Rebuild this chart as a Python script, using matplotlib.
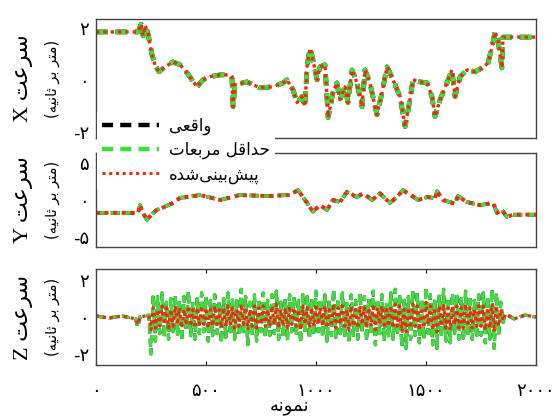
import numpy as np
import matplotlib
matplotlib.use('Agg')
import matplotlib.pyplot as plt
from matplotlib.lines import Line2D

# --- Persian text helper: pick contextual glyph forms and put into visual order ---
FORMS = {
    'ا': ('\uFE8D', '\uFE8E', None, None),
    'د': ('\uFEA9', '\uFEAA', None, None),
    'ر': ('\uFEAD', '\uFEAE', None, None),
    'و': ('\uFEED', '\uFEEE', None, None),
    'ب': ('\uFE8F', '\uFE90', '\uFE91', '\uFE92'),
    'ت': ('\uFE95', '\uFE96', '\uFE97', '\uFE98'),
    'ث': ('\uFE99', '\uFE9A', '\uFE9B', '\uFE9C'),
    'ح': ('\uFEA1', '\uFEA2', '\uFEA3', '\uFEA4'),
    'س': ('\uFEB1', '\uFEB2', '\uFEB3', '\uFEB4'),
    'ش': ('\uFEB5', '\uFEB6', '\uFEB7', '\uFEB8'),
    'ع': ('\uFEC9', '\uFECA', '\uFECB', '\uFECC'),
    'ق': ('\uFED5', '\uFED6', '\uFED7', '\uFED8'),
    'ل': ('\uFEDD', '\uFEDE', '\uFEDF', '\uFEE0'),
    'م': ('\uFEE1', '\uFEE2', '\uFEE3', '\uFEE4'),
    'ن': ('\uFEE5', '\uFEE6', '\uFEE7', '\uFEE8'),
    'ه': ('\uFEE9', '\uFEEA', '\uFEEB', '\uFEEC'),
    'ی': ('\uFBFC', '\uFBFD', '\uFBFE', '\uFBFF'),
    'پ': ('\uFB56', '\uFB57', '\uFB58', '\uFB59'),
}


def fa(s):
    out = []
    for i, ch in enumerate(s):
        if ch == '\u200c':
            continue
        if ch not in FORMS:
            out.append(ch)
            continue
        prev = s[i - 1] if i > 0 else ''
        nxt = s[i + 1] if i + 1 < len(s) else ''
        jp = prev in FORMS and FORMS[prev][2] is not None
        jn = FORMS[ch][2] is not None and nxt in FORMS
        iso, fin, ini, med = FORMS[ch]
        if jp and jn:
            out.append(med)
        elif jp:
            out.append(fin)
        elif jn:
            out.append(ini)
        else:
            out.append(iso)
    vis = ''.join(reversed(out))
    return vis.translate(str.maketrans('()', ')('))


# --- data (sample index, value) ---
x_t = [0, 191, 205, 214, 223, 236, 255, 268, 286, 314, 350, 382, 414, 436, 459, 486,
       518, 564, 609, 618, 623, 632, 686, 745, 805, 850, 868, 895, 914, 936, 950, 959,
       973, 986, 1005, 1018, 1041, 1055, 1077, 1095, 1109, 1132, 1145, 1164, 1186, 1209,
       1223, 1245, 1277, 1300, 1323, 1350, 1382, 1405, 1427, 1441, 1473, 1505, 1527, 1541,
       1564, 1595, 1618, 1632, 1655, 1686, 1723, 1755, 1782, 1800, 1814, 1827, 1845, 1850,
       1868, 2000]
x_actual = [1.85, 1.85, 2.15, 1.7, 2.1, 1.8, 0.96, 0.58, 0.31, 0.5, 0.69, 0.58, 0.27, 0, -0.27, 0,
            0.12, 0.19, 0.19, 0.08, -1.04, -0.19, -0.08, -0.31, -0.27, -0.12, 0, -0.38, -0.88, -0.65, -1.04, 0.5,
            1.23, 0.77, 0, 0.5, 0.58, -1.46, -0.5, -0.12, -0.77, -0.27, -0.88, 0.38, -0.12, -1.04,
            0.38, -0.12, -1.35, -0.5, 0.5, 0, -0.65, -1.81, -0.77, 0, -0.08, -0.12, -0.65, -1.42,
            -0.77, -0.12, 0.38, -0.65, 0.12, 0.38, 0.31, 0.46, 0.65, 1.27, 1.85, 1.54, 0.46, 1.65,
            1.65, 1.65]
x_ls = x_actual
x_pred = x_actual

y_t = [0, 191, 200, 214, 232, 255, 277, 314, 350, 382, 414, 473, 564, 655, 777, 882,
       918, 941, 986, 1018, 1050, 1077, 1109, 1141, 1186, 1214, 1255, 1291, 1336, 1368,
       1395, 1464, 1505, 1541, 1550, 1577, 1632, 1645, 1686, 1745, 1805, 1823, 1845, 1868,
       1895, 2000]
y_actual = [-1.75, -1.75, -0.7, -1.8, -2.7, -1.9, -1.35, -0.9, -0.4, 0.3, 0.4, 0.68, 0, 0.68, 0.54, 0.68,
            1.35, 0.4, -1.6, -0.7, -1.35, 0, -0.27, 1.1, 0.4, 0.9, 0, 0.9, -0.4, 0.4,
            1.35, 0, 0.4, 0.27, 1.2, 0, -0.5, 0.54, -0.27, -0.7, -0.4, -1.75, -1.35, -2.3,
            -2.0, -2.0]
y_ls = y_actual
y_pred = y_actual

z_t = [0, 60, 120, 180, 190, 200, 240] + list(range(250, 1851, 10)) + [1860, 1900, 1950, 2000]
z_actual = [0.05, -0.05, 0.05, -0.1, -0.55, 0.0, 0.1,
            -2.0, 1.2, -1.3, 1.1, -0.9, 1.3, -1.1, 0.8, -1.2, 1.0,
            -0.8, 1.2, -1.0, 0.9, -1.3, 1.1, -0.7, 1.4, -1.0, 0.8,
            -1.2, 1.0, -0.9, 1.3, -0.8, 1.1, -1.3, 0.9, -1.0, 1.2,
            -0.9, 0.8, -1.4, 1.0, -1.1, 1.3, -0.8, 1.0, -1.2, 0.9,
            -1.0, 1.5, -0.9, 1.1, -1.5, 0.8, -1.0, 1.2, -1.3, 1.0,
            -0.8, 1.3, -1.1, 0.9, -1.0, 1.2, -0.9, 1.4, -1.2, 0.8,
            -1.1, 1.0, -1.3, 1.2, -0.8, 1.1, -1.0, 0.9, -1.4, 1.3,
            -0.9, 1.1, -1.2, 1.0, -1.0, 1.4, -0.8, 1.0, -1.1, 1.2,
            -1.3, 0.9, -1.0, 1.5, -1.2, 1.0, -0.9, 1.3, -1.1, 0.8,
            -1.4, 1.2, -1.0, 0.9, -1.2, 1.3, -0.8, 1.1, -1.3, 1.0,
            -1.0, 1.4, -1.5, 1.0, -0.9, 1.2, -1.3, 0.8, -1.1, 1.3,
            -1.2, 1.5, -1.0, 1.2, -1.6, 0.9, -1.7, 1.1, -1.2, 1.4,
            -1.0, 1.3, -1.4, 1.0, -1.2, 1.6, -0.9, 1.2, -1.5, 1.0,
            -1.7, 1.2, -1.1, 1.5, -1.3, 1.0, -1.4, 1.3, -0.9, 1.2,
            -1.2, 1.0, -1.3, 1.4, -1.0, 1.1, -1.2, 0.9, -1.1, 1.2,
            -1.0, 1.3, -1.4, 1.1, -1.2, 1.5, -1.7, 1.3, -1.0, 0.8,
            -0.3,
            0.2, -0.1, 0.1, 0.0]
z_ls = z_actual
z_pred = [0.05, -0.05, 0.05, -0.1, -0.4, 0.0, 0.1,
          -0.7, 0.5, -0.6, 0.4, -0.5, 0.6, -0.4, 0.5, -0.6, 0.4,
          -0.5, 0.6, -0.4, 0.5, -0.6, 0.4, -0.3, 0.6, -0.5, 0.4,
          -0.6, 0.5, -0.4, 0.6, -0.4, 0.5, -0.6, 0.4, -0.5, 0.6,
          -0.4, 0.4, -0.6, 0.5, -0.5, 0.6, -0.4, 0.5, -0.6, 0.4,
          -0.5, 0.7, -0.4, 0.5, -0.7, 0.4, -0.5, 0.6, -0.6, 0.5,
          -0.4, 0.6, -0.5, 0.4, -0.5, 0.6, -0.4, 0.7, -0.6, 0.4,
          -0.5, 0.5, -0.6, 0.6, -0.4, 0.5, -0.5, 0.4, -0.7, 0.6,
          -0.4, 0.5, -0.6, 0.5, -0.5, 0.7, -0.4, 0.5, -0.5, 0.6,
          -0.6, 0.4, -0.5, 0.7, -0.6, 0.5, -0.4, 0.6, -0.5, 0.4,
          -0.7, 0.6, -0.5, 0.4, -0.6, 0.6, -0.4, 0.5, -0.6, 0.5,
          -0.5, 0.7, -0.7, 0.5, -0.4, 0.6, -0.6, 0.4, -0.5, 0.6,
          -0.6, 0.7, -0.5, 0.6, -0.8, 0.4, -0.8, 0.5, -0.6, 0.7,
          -0.5, 0.6, -0.7, 0.5, -0.6, 0.8, -0.4, 0.6, -0.7, 0.5,
          -0.8, 0.6, -0.5, 0.7, -0.6, 0.5, -0.7, 0.6, -0.4, 0.6,
          -0.6, 0.5, -0.6, 0.7, -0.5, 0.5, -0.6, 0.4, -0.5, 0.6,
          -0.5, 0.6, -0.7, 0.5, -0.6, 0.7, -0.8, 0.6, -0.5, 0.4,
          -0.2,
          0.15, -0.1, 0.1, 0.0]

series_names = ['سرعت X', 'سرعت Y', 'سرعت Z']
unit_label = '(متر بر ثانیه)'
legend_labels = ['واقعی', 'حداقل مربعات', 'پیش\u200cبینی\u200cشده']
x_label = 'نمونه'
x_ticks = [0, 500, 1000, 1500, 2000]
x_ticklabels = ['۰', '۵۰۰', '۱۰۰۰', '۱۵۰۰', '۲۰۰۰']
y_ticks = [[-2, 0, 2], [-5, 0, 5], [-2, 0, 2]]
y_ticklabels = [['-۲', '۰', '۲'], ['-۵', '۰', '۵'], ['-۲', '۰', '۲']]
y_limits = [(-2.25, 2.35), (-6.4, 6.4), (-2.6, 2.6)]

# --- figure ---
fig = plt.figure(figsize=(5.58, 4.18), dpi=100)
W, H = 558, 418
boxes = [(19, 138), (153, 247), (269, 365)]
axes = []
for top, bot in boxes:
    ax = fig.add_axes([96 / W, 1 - bot / H, 440 / W, (bot - top) / H])
    axes.append(ax)

green = '#3de03a'
red = '#ee2a10'
dash = (0, (2.5, 1.6))
dots = (0, (1, 1.2))
data = [(x_t, x_actual, x_ls, x_pred), (y_t, y_actual, y_ls, y_pred), (z_t, z_actual, z_ls, z_pred)]
# line widths per panel: (actual, least squares, predicted)
widths = [(3.4, 3.4, 2.4), (2.6, 2.6, 2.8), (2.3, 2.3, 2.3)]
for i, ax in enumerate(axes):
    t, a, ls, p = data[i]
    wa, wl, wp = widths[i]
    ax.plot(t, a, color='black', lw=wa, ls=dash)
    ax.plot(t, ls, color=green, lw=wl, ls=dash)
    ax.plot(t, p, color=red, lw=wp, ls=dots)
    ax.set_xlim(0, 2000)
    ax.set_ylim(*y_limits[i])
    ax.set_yticks(y_ticks[i])
    ax.set_yticklabels(y_ticklabels[i], family='DejaVu Sans', fontsize=13)
    ax.set_yticks([0], minor=True)
    ax.tick_params(axis='y', which='major', length=0, pad=5)
    ax.tick_params(axis='y', which='minor', length=3, direction='in', left=True, right=True)
    for s in ax.spines.values():
        s.set_color('#444444')
        s.set_linewidth(1.0)
    ax.text(-0.165, 0.5, fa(series_names[i]), transform=ax.transAxes, rotation=90,
            ha='center', va='center', fontsize=16, family=['Liberation Serif', 'DejaVu Sans'])
    ax.text(-0.10, 0.5, fa(unit_label), transform=ax.transAxes, rotation=90,
            ha='center', va='center', fontsize=10.5, family='DejaVu Sans')
    if i < 2:
        ax.set_xticks([])
    else:
        ax.set_xticks(x_ticks)
        ax.set_xticklabels(x_ticklabels, family='DejaVu Sans', fontsize=13)
        ax.tick_params(axis='x', length=3, direction='in', top=True, bottom=True, pad=12)
        ax.set_xlabel(fa(x_label), family='DejaVu Sans', fontsize=13, labelpad=0)
        ax.xaxis.set_label_coords(0.44, -0.33)

handles = [
    Line2D([], [], color='black', lw=3.2, ls=dash),
    Line2D([], [], color=green, lw=3.2, ls=dash),
    Line2D([], [], color=red, lw=2.2, ls=dots),
]
leg = fig.legend(handles, [fa(s) for s in legend_labels], loc='upper left',
                 bbox_to_anchor=(97 / W, 1 - 112 / H), frameon=True, fancybox=False,
                 facecolor='white', edgecolor='none', framealpha=1, borderaxespad=0,
                 borderpad=0.3, handlelength=3.4, handletextpad=0.6, labelspacing=0.35,
                 prop={'family': 'DejaVu Sans', 'size': 12})

fig.savefig('out.png', dpi=100, facecolor='white')
